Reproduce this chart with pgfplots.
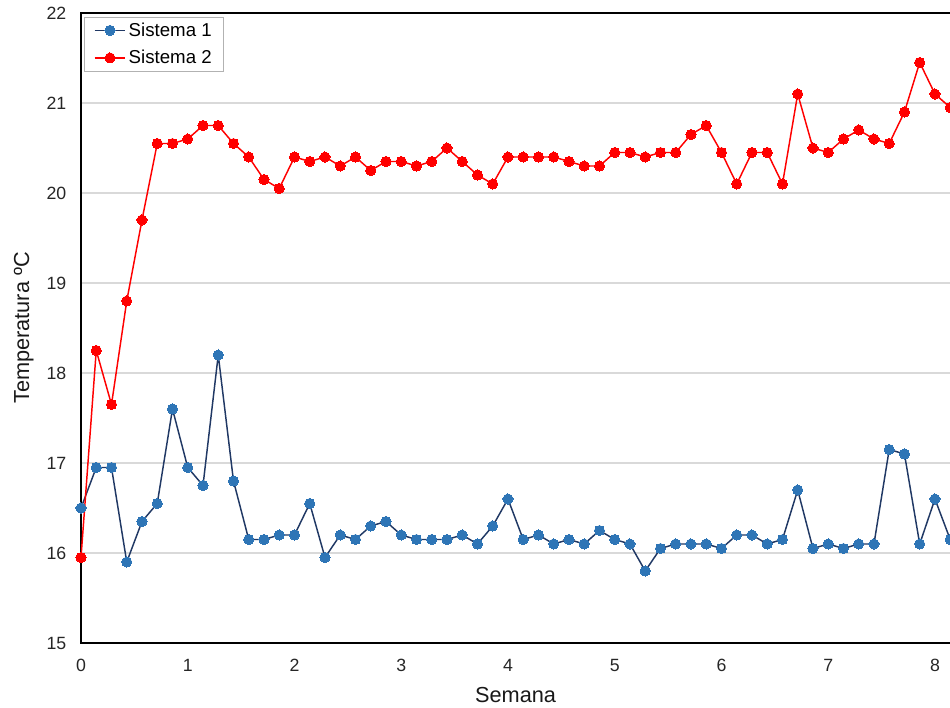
\documentclass[border=0pt]{standalone}
\usepackage{fontspec}
\setmainfont{Liberation Sans}
\usepackage{pgfplots}
\usepackage{pgfplotstable}
\pgfplotsset{compat=1.18}

\definecolor{azulmarca}{HTML}{2E75B6}
\definecolor{azullinea}{HTML}{203864}
\definecolor{rejilla}{HTML}{D9D9D9}

% Temperatura diaria (x en semanas)
\pgfplotstableread{
x       s1     s2
0       16.50  15.95
0.1429  16.95  18.25
0.2857  16.95  17.65
0.4286  15.90  18.80
0.5714  16.35  19.70
0.7143  16.55  20.55
0.8571  17.60  20.55
1.0000  16.95  20.60
1.1429  16.75  20.75
1.2857  18.20  20.75
1.4286  16.80  20.55
1.5714  16.15  20.40
1.7143  16.15  20.15
1.8571  16.20  20.05
2.0000  16.20  20.40
2.1429  16.55  20.35
2.2857  15.95  20.40
2.4286  16.20  20.30
2.5714  16.15  20.40
2.7143  16.30  20.25
2.8571  16.35  20.35
3.0000  16.20  20.35
3.1429  16.15  20.30
3.2857  16.15  20.35
3.4286  16.15  20.50
3.5714  16.20  20.35
3.7143  16.10  20.20
3.8571  16.30  20.10
4.0000  16.60  20.40
4.1429  16.15  20.40
4.2857  16.20  20.40
4.4286  16.10  20.40
4.5714  16.15  20.35
4.7143  16.10  20.30
4.8571  16.25  20.30
5.0000  16.15  20.45
5.1429  16.10  20.45
5.2857  15.80  20.40
5.4286  16.05  20.45
5.5714  16.10  20.45
5.7143  16.10  20.65
5.8571  16.10  20.75
6.0000  16.05  20.45
6.1429  16.20  20.10
6.2857  16.20  20.45
6.4286  16.10  20.45
6.5714  16.15  20.10
6.7143  16.70  21.10
6.8571  16.05  20.50
7.0000  16.10  20.45
7.1429  16.05  20.60
7.2857  16.10  20.70
7.4286  16.10  20.60
7.5714  17.15  20.55
7.7143  17.10  20.90
7.8571  16.10  21.45
8.0000  16.60  21.10
8.1429  16.15  20.95
}\datos

\begin{document}
\begin{tikzpicture}
\begin{axis}[
  name=ax,
  scale only axis,
  width=680.5pt, height=472.5pt,
  xmin=0, xmax=8.5,
  ymin=15, ymax=22,
  xtick={0,1,...,8},
  ytick={15,16,...,22},
  major tick length=0pt,
  ymajorgrids,
  grid style={rejilla, line width=0.9pt},
  axis line style={black, line width=1pt},
  /pgf/number format/assume math mode=true,
  tick label style={font=\fontsize{13.3}{16}\selectfont, text=black!85},
  yticklabel style={xshift=-7.5pt},
  xticklabel style={yshift=-8.5pt},
  xlabel={Semana},
  ylabel={Temperatura ºC},
  label style={font=\fontsize{16.3}{19.5}\selectfont, text=black!90},
  xlabel style={at={(axis description cs:0.479,0)}, anchor=center, yshift=-39pt},
  ylabel style={at={(axis description cs:0,0.5)}, anchor=center, yshift=43pt},
  legend cell align=left,
  legend image code/.code={\draw[#1, mark repeat=2, mark phase=2]
      plot coordinates {(0pt,0pt) (11.5pt,0pt) (23pt,0pt)};},
  legend style={at={(rel axis cs:0,1)}, anchor=north west,
    xshift=2.5pt, yshift=-3pt, draw=black!30, fill=white,
    font=\fontsize{14}{16.8}\selectfont, row sep=5pt,
    inner xsep=7pt, inner ysep=2pt},
]
\addplot[azullinea, line width=1.1pt, mark=*, mark size=3.8pt,
  mark options={fill=azulmarca, draw=azulmarca, line width=0pt}]
  table[x=x, y=s1] {\datos};
\addlegendentry{Sistema 1}
\addplot[red, line width=1.1pt, mark=*, mark size=3.8pt,
  mark options={fill=red, draw=red, line width=0pt}]
  table[x=x, y=s2] {\datos};
\addlegendentry{Sistema 2}
\end{axis}
\pgfresetboundingbox
\path[use as bounding box]
  ([xshift=-60.75pt, yshift=-48.75pt]ax.south west)
  rectangle ([xshift=651.75pt, yshift=9.75pt]ax.north west);
\end{tikzpicture}
\end{document}
